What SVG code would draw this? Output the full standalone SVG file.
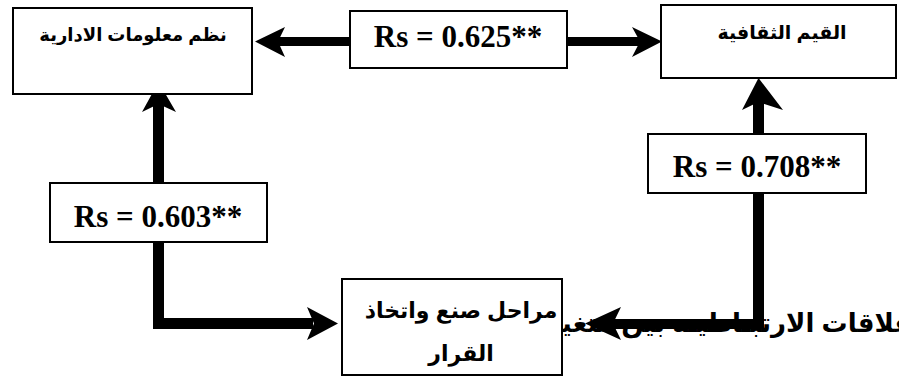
<svg xmlns="http://www.w3.org/2000/svg" width="899" height="377" viewBox="0 0 899 377">
<style>
.box{fill:#fff;stroke:#000;stroke-width:2}
.ar{font-family:"Liberation Sans","DejaVu Sans",Arial,sans-serif;font-weight:bold;fill:#000;text-anchor:middle}
.rs{font-family:"Liberation Serif","Times New Roman",serif;font-weight:bold;font-size:31px;fill:#000;text-anchor:middle}
.ln{fill:#000;stroke:none}
</style>
<rect width="899" height="377" fill="#fff"/>
<text x="912" y="332" class="ar" style="text-anchor:end;font-size:26px">علاقات الارتبـاطيـة بين متغير</text>
<g id="connectors">
  <rect class="ln" x="278" y="37" width="362" height="9"/>
  <path class="ln" d="M255,41.5 L285,27 L278,41.5 L285,57 Z"/>
  <path class="ln" d="M662,41.5 L632,27 L640,41.5 L632,57 Z"/>
  <rect class="ln" x="153" y="100" width="11" height="229"/>
  <rect class="ln" x="153" y="318" width="160" height="11"/>
  <path class="ln" d="M158.5,82 L142,112 L158.5,104 L176,112 Z"/>
  <path class="ln" d="M338,323.5 L307,307 L314,323.5 L307,340 Z"/>
  <rect class="ln" x="753" y="100" width="11" height="229"/>
  <rect class="ln" x="612" y="319" width="152" height="10"/>
  <path class="ln" d="M758.5,78 L742,110 L758.5,102 L783,110 Z"/>
  <path class="ln" d="M585,323.5 L621,307 L613,323.5 L621,340 Z"/>
</g>
<g id="n1">
  <rect class="box" x="13" y="8" width="239" height="86"/>
  <text class="ar" x="133" y="41" style="font-size:18px">نظم معلومات الادارية</text>
</g>
<g id="n2">
  <rect class="box" x="661" y="5" width="235" height="73"/>
  <text class="ar" x="782" y="39" style="font-size:19px">القيم الثقافية</text>
</g>
<g id="n3">
  <rect class="box" x="342" y="279" width="220" height="96"/>
  <text class="ar" x="461" y="318" style="font-size:22px">مراحل صنع واتخاذ</text>
  <text class="ar" x="461" y="361" style="font-size:22px">القرار</text>
</g>
<g id="r1">
  <rect class="box" x="350" y="11" width="217" height="57"/>
  <text class="rs" x="458" y="47">Rs = 0.625**</text>
</g>
<g id="r2">
  <rect class="box" x="50" y="183" width="217" height="59"/>
  <text class="rs" x="158" y="227">Rs = 0.603**</text>
</g>
<g id="r3">
  <rect class="box" x="648" y="134" width="218" height="59"/>
  <text class="rs" x="757" y="177">Rs = 0.708**</text>
</g>
</svg>
